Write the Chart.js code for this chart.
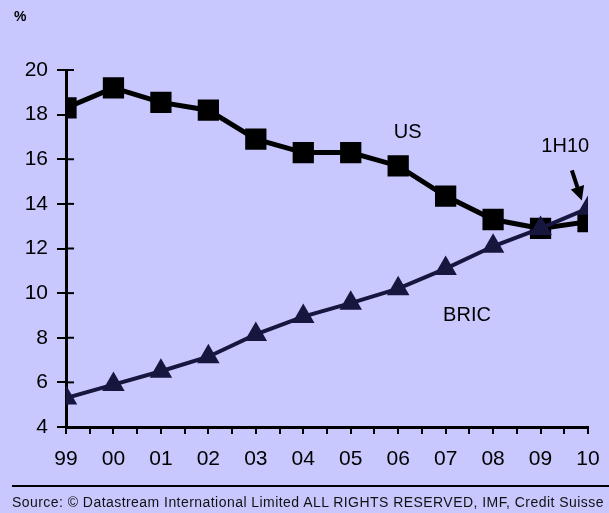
<!DOCTYPE html>
<html>
<head>
<meta charset="utf-8">
<script src="https://cdn.jsdelivr.net/npm/chart.js@4.4.0/dist/chart.umd.min.js"></script>
<style>
  html, body { margin: 0; padding: 0; background: #c8c8ff; }
  #wrap { position: relative; width: 609px; height: 513px; font-family: "Liberation Sans", Arial, sans-serif; }
  #pct { position: absolute; left: 14px; top: 8px; font-size: 14px; font-weight: bold; }
  #rule { position: absolute; left: 12px; right: 0; top: 485px; height: 2px; background: #000; }
  #source { position: absolute; left: 12px; top: 494px; font-size: 14px; letter-spacing: 0.45px; color: #111; white-space: nowrap; }
</style>
</head>
<body>
<div id="wrap">
  <canvas id="chart" width="609" height="513"></canvas>
  <div id="pct">%</div>
  <div id="rule"></div>
  <div id="source">Source: © Datastream International Limited ALL RIGHTS RESERVED, IMF, Credit Suisse</div>
</div>
<script>
// Years shown on the x axis (99 ... 10)
const years = ['99', '00', '01', '02', '03', '04', '05', '06', '07', '08', '09', '10'];
const usValues = [18.3, 19.2, 18.55, 18.2, 16.9, 16.3, 16.3, 15.7, 14.35, 13.3, 12.9, 13.2];
const bricValues = [5.3, 5.9, 6.5, 7.15, 8.15, 8.95, 9.55, 10.2, 11.1, 12.1, 12.9, 13.8];
const yTicks = [4, 6, 8, 10, 12, 14, 16, 18, 20];

const toPoints = arr => arr.map((v, i) => ({ x: i, y: v }));

// extra drawings: inward y ticks, labels and the 1H10 arrow
const extras = {
  id: 'extras',
  afterDraw(chart) {
    const ctx = chart.ctx;
    const xs = chart.scales.x, ys = chart.scales.y;
    ctx.save();
    // y ticks crossing the axis (inner half)
    ctx.strokeStyle = '#000';
    ctx.lineWidth = 2;
    yTicks.forEach(v => {
      const py = ys.getPixelForValue(v);
      ctx.beginPath();
      ctx.moveTo(xs.left, py);
      ctx.lineTo(xs.left + 8, py);
      ctx.stroke();
    });
    ctx.fillStyle = '#000';
    ctx.font = '20px "Liberation Sans", Arial, sans-serif';
    ctx.textAlign = 'center';
    ctx.textBaseline = 'middle';
    ctx.fillText('US', xs.getPixelForValue(7.2), ys.getPixelForValue(17.22));
    ctx.fillText('BRIC', xs.getPixelForValue(8.45), ys.getPixelForValue(8.98));
    ctx.fillText('1H10', xs.getPixelForValue(10.52), ys.getPixelForValue(16.55));
    // arrow
    const x1 = xs.getPixelForValue(10.66), y1 = ys.getPixelForValue(15.5);
    const x2 = xs.getPixelForValue(10.87), y2 = ys.getPixelForValue(14.15);
    const ang = Math.atan2(y2 - y1, x2 - x1);
    ctx.lineWidth = 4;
    ctx.beginPath();
    ctx.moveTo(x1, y1);
    ctx.lineTo(x2 - 10 * Math.cos(ang), y2 - 10 * Math.sin(ang));
    ctx.stroke();
    ctx.beginPath();
    ctx.moveTo(x2, y2);
    ctx.lineTo(x2 - 14 * Math.cos(ang) + 7 * Math.sin(ang), y2 - 14 * Math.sin(ang) - 7 * Math.cos(ang));
    ctx.lineTo(x2 - 14 * Math.cos(ang) - 7 * Math.sin(ang), y2 - 14 * Math.sin(ang) + 7 * Math.cos(ang));
    ctx.closePath();
    ctx.fill();
    ctx.restore();
  }
};

new Chart(document.getElementById('chart'), {
  type: 'line',
  data: {
    datasets: [
      {
        label: 'BRIC',
        data: toPoints(bricValues),
        borderColor: '#16163f',
        backgroundColor: '#16163f',
        borderWidth: 4,
        pointStyle: 'triangle',
        pointRadius: 9,
        pointHoverRadius: 9
      },
      {
        label: 'US',
        data: toPoints(usValues),
        borderColor: '#000',
        backgroundColor: '#000',
        borderWidth: 5,
        pointStyle: 'rect',
        pointRadius: 11.5,
        pointHoverRadius: 11.5
      }
    ]
  },
  options: {
    responsive: false,
    animation: false,
    layout: { padding: { top: 70, right: 21, bottom: 46, left: 0 } },
    plugins: { legend: { display: false }, tooltip: { enabled: false } },
    scales: {
      x: {
        type: 'linear',
        min: 0,
        max: years.length - 1,
        afterFit: s => { s.height = 40; s.paddingLeft = 0; s.paddingRight = 0; },
        afterBuildTicks: s => {
          const t = [];
          for (let i = 0; i <= (years.length - 1) * 2; i++) t.push({ value: i / 2 });
          s.ticks = t;
        },
        border: { color: '#000', width: 3 },
        grid: { drawOnChartArea: false, drawTicks: true, tickLength: 7, color: '#000', lineWidth: 2 },
        ticks: {
          autoSkip: false,
          maxRotation: 0,
          padding: 13,
          color: '#000',
          font: { family: '"Liberation Sans", Arial, sans-serif', size: 21 },
          callback: v => Number.isInteger(v) ? years[v] : ''
        }
      },
      y: {
        min: 4,
        max: 20,
        afterFit: s => { s.width = 66; },
        afterBuildTicks: s => { s.ticks = yTicks.map(v => ({ value: v })); },
        border: { color: '#000', width: 3 },
        grid: { drawOnChartArea: false, drawTicks: true, tickLength: 9, color: '#000', lineWidth: 2 },
        ticks: {
          padding: 9,
          color: '#000',
          font: { family: '"Liberation Sans", Arial, sans-serif', size: 21 }
        }
      }
    }
  },
  plugins: [extras]
});
</script>
</body>
</html>
